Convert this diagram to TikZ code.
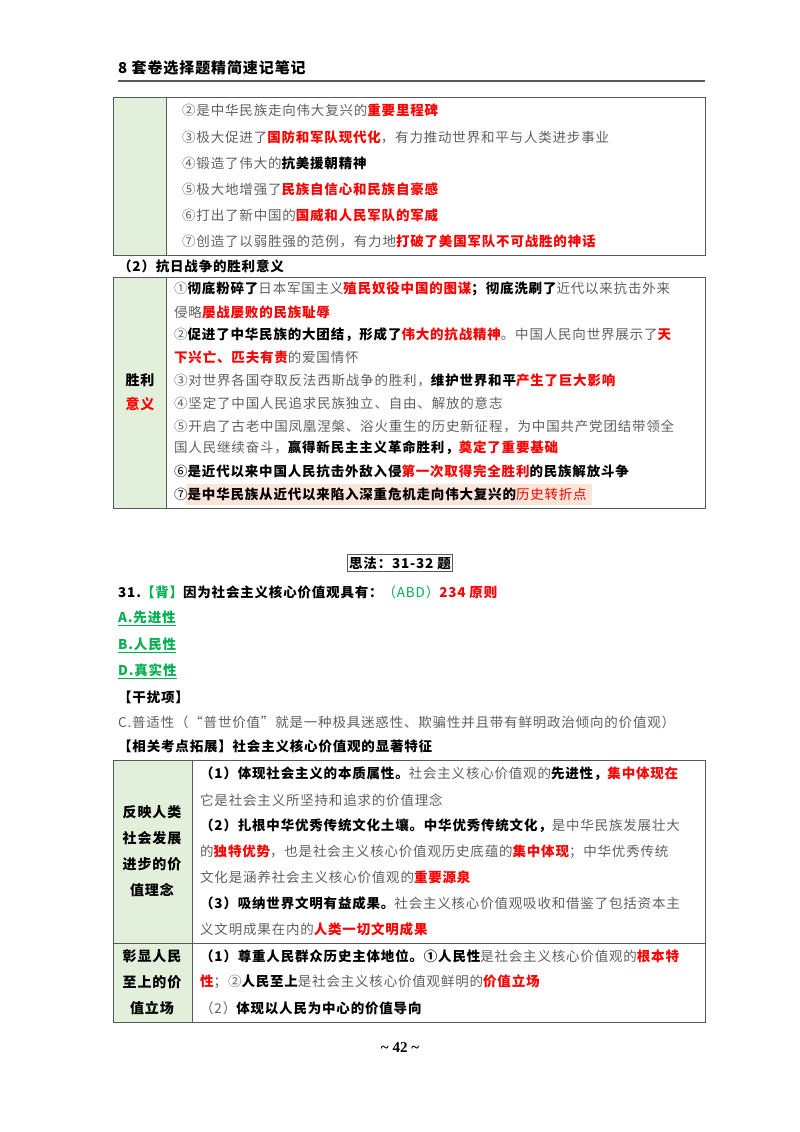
\documentclass[tikz,border=0pt]{standalone}
\usepackage{fontspec}
\setmainfont[LetterSpace=6]{Noto Sans CJK SC}
\newfontfamily\serifnum{Liberation Serif}
\definecolor{tg}{RGB}{95,95,95}
\definecolor{rd}{RGB}{255,0,0}
\definecolor{gn}{RGB}{0,176,80}
\definecolor{cellg}{RGB}{226,239,218}
\definecolor{peach}{RGB}{252,228,214}
\definecolor{frame}{RGB}{90,90,90}
\newcommand\rb[1]{{\bfseries\color{rd}#1}}
\newcommand\bk[1]{{\bfseries\color{black}#1}}
\begin{document}
\begin{tikzpicture}[x=1pt,y=-1pt,
  ln/.style={anchor=west,inner sep=0pt,font=\fontsize{13.5}{14}\selectfont,text=tg},
  hd/.style={anchor=west,inner sep=0pt,font=\fontsize{13.5}{14}\selectfont\bfseries,text=black},
  lc/.style={inner sep=0pt,font=\fontsize{14}{14}\selectfont\bfseries,text=black},
  tbl/.style={draw=frame,line width=0.8pt}]
\useasboundingbox (0,0) rectangle (800,1132);
% header
\node[anchor=west,inner sep=0pt,font=\fontsize{15}{15}\selectfont\bfseries] (hdr) at (118,68) {8 套卷选择题精简速记笔记};
\draw[line width=1.4pt,draw=frame] (118,81) -- (705,81);
% table 1
\fill[cellg] (113,97) rectangle (166,255);
\draw[tbl] (113,97) rectangle (705,255);
\draw[tbl] (166,97) -- (166,255);
\node[ln] (a2) at (182,110) {②是中华民族走向伟大复兴的\rb{重要里程碑}};
\node[ln] (a3) at (182,137) {③极大促进了\rb{国防和军队现代化}，有力推动世界和平与人类进步事业};
\node[ln] (a4) at (182,163) {④锻造了伟大的\bk{抗美援朝精神}};
\node[ln] (a5) at (182,189) {⑤极大地增强了\rb{民族自信心和民族自豪感}};
\node[ln] (a6) at (182,215) {⑥打出了新中国的\rb{国威和人民军队的军威}};
\node[ln] (a7) at (182,241) {⑦创造了以弱胜强的范例，有力地\rb{打破了美国军队不可战胜的神话}};
\node[hd] (s2) at (118,266) {（2）抗日战争的胜利意义};
% table 2
\fill[cellg] (113,277) rectangle (166,508);
\fill[peach] (186,484) rectangle (592,505);
\draw[tbl] (113,277) rectangle (705,508);
\draw[tbl] (166,277) -- (166,508);
\node[lc] (c1) at (140,380) {胜利};
\node[lc,text=rd] (c2) at (140,404) {意义};
\node[ln] (b1) at (174,289) {①\bk{彻底粉碎了}日本军国主义\rb{殖民奴役中国的图谋}\bk{；彻底洗刷了}近代以来抗击外来};
\node[ln] (b2) at (174,312) {侵略\rb{屡战屡败的民族耻辱}};
\node[ln] (b3) at (174,335) {②\bk{促进了中华民族的大团结，形成了}\rb{伟大的抗战精神}。中国人民向世界展示了\rb{天}};
\node[ln] (b4) at (174,357) {\rb{下兴亡、匹夫有责}的爱国情怀};
\node[ln] (b5) at (174,380) {③对世界各国夺取反法西斯战争的胜利，\bk{维护世界和平}\rb{产生了巨大影响}};
\node[ln] (b6) at (174,403) {④坚定了中国人民追求民族独立、自由、解放的意志};
\node[ln] (b7) at (174,426) {⑤开启了古老中国凤凰涅槃、浴火重生的历史新征程，为中国共产党团结带领全};
\node[ln] (b8) at (174,448) {国人民继续奋斗，\bk{赢得新民主主义革命胜利，}\rb{奠定了重要基础}};
\node[ln,text=black] (b9) at (174,471) {⑥\bk{是近代以来中国人民抗击外敌入侵}\rb{第一次取得完全胜利}\bk{的民族解放斗争}};
\node[ln,text=black] (b10) at (174,494) {⑦\bk{是中华民族从近代以来陷入深重危机走向伟大复兴的}{\color{rd}历史转折点}};
% section box
\node[draw=frame,line width=0.8pt,inner sep=2pt,font=\fontsize{13.5}{14}\selectfont\bfseries] (sec) at (400,563) {思法：31-32 题};
\node[hd] (q31) at (118,592) {31.{\color{gn}【背】}因为社会主义核心价值观具有：{\color{gn}\mdseries（ABD）}{\color{rd}234 原则}};
\node[hd,text=gn] (oa) at (118,618) {\underline{A.先进性}};
\node[hd,text=gn] (ob) at (118,645) {\underline{B.人民性}};
\node[hd,text=gn] (od) at (118,671) {\underline{D.真实性}};
\node[hd] (gr) at (118,697) {【干扰项】};
\node[ln] (oc) at (118,722) {C.普适性（“普世价值”就是一种极具迷惑性、欺骗性并且带有鲜明政治倾向的价值观）};
\node[hd] (kz) at (118,746) {【相关考点拓展】社会主义核心价值观的显著特征};
% table 3
\fill[cellg] (113,760) rectangle (192,1022);
\draw[tbl] (113,760) rectangle (705,1022);
\draw[tbl] (192,760) -- (192,1022);
\draw[tbl] (113,943) -- (705,943);
\node[lc] (d1) at (152,812) {反映人类};
\node[lc] (d2) at (152,838) {社会发展};
\node[lc] (d3) at (152,864) {进步的价};
\node[lc] (d4) at (152,890) {值理念};
\node[lc] (e1) at (152,956) {彰显人民};
\node[lc] (e2) at (152,982) {至上的价};
\node[lc] (e3) at (152,1008) {值立场};
\node[ln] (f1) at (200,774) {\bk{（1）体现社会主义的本质属性。}社会主义核心价值观的\bk{先进性，}\rb{集中体现在}};
\node[ln] (f2) at (200,800) {它是社会主义所坚持和追求的价值理念};
\node[ln] (f3) at (200,826) {\bk{（2）扎根中华优秀传统文化土壤。中华优秀传统文化，}是中华民族发展壮大};
\node[ln] (f4) at (200,852) {的\rb{独特优势}，也是社会主义核心价值观历史底蕴的\rb{集中体现}；中华优秀传统};
\node[ln] (f5) at (200,877) {文化是涵养社会主义核心价值观的\rb{重要源泉}};
\node[ln] (f6) at (200,903) {\bk{（3）吸纳世界文明有益成果。}社会主义核心价值观吸收和借鉴了包括资本主};
\node[ln] (f7) at (200,929) {义文明成果在内的\rb{人类一切文明成果}};
\node[ln] (g1) at (200,956) {\bk{（1）尊重人民群众历史主体地位。①人民性}是社会主义核心价值观的\rb{根本特}};
\node[ln] (g2) at (200,982) {\rb{性}；②\bk{人民至上}是社会主义核心价值观鲜明的\rb{价值立场}};
\node[ln] (g3) at (200,1008) {（2）\bk{体现以人民为中心的价值导向}};
\node[inner sep=0pt,font=\fontsize{15}{15}\selectfont\bfseries\serifnum] (pg) at (400,1048) {\textasciitilde\ 42 \textasciitilde};
\end{tikzpicture}
\end{document}
